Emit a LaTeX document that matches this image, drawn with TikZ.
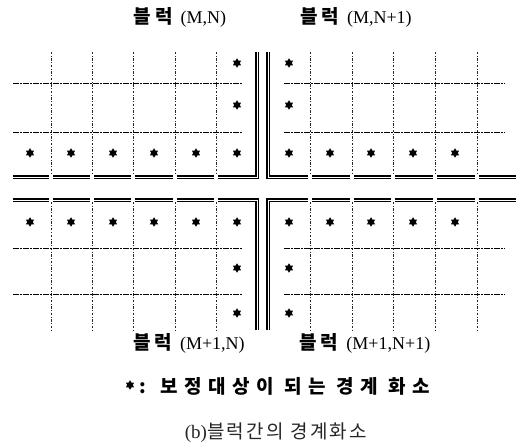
\documentclass[tikz,border=0pt]{standalone}
\usepackage{fontspec}
\setmainfont{Liberation Serif}
\newfontfamily\cjk{Noto Sans CJK KR}[LetterSpace=12]
\newfontfamily\cjkls{Noto Sans CJK KR}[LetterSpace=20]
\newfontfamily\cjkwide{Noto Sans CJK KR}[LetterSpace=34]
\usetikzlibrary{shapes.geometric}
\newcommand\blk[1]{{\fontsize{19}{21}\selectfont\cjkls\bfseries 블럭}\hspace{8pt}{\fontsize{18}{20}\selectfont #1}}
\begin{document}
\begin{tikzpicture}[x=1pt,y=-1pt,
  mk/.style={star, star points=6, star point ratio=1.7, fill=black, draw=none, inner sep=0pt, minimum size=9.5pt},
  bord/.style={double=white, line width=1.5pt, double distance=0.7pt, line join=miter},
  hthin/.style={line width=0.7pt, dash pattern=on 6pt off 1pt on 2pt off 1pt},
  vthin/.style={line width=0.6pt, black!85, dash pattern=on 2.5pt off 1.5pt on 1pt off 1.5pt},
  lbl/.style={inner sep=0pt, anchor=center},
]
\useasboundingbox (0,0) rectangle (516,446);

% labels
\node[lbl] (tl) at (180,17) {\blk{(M,N)}};
\node[lbl] (tr) at (356,17) {\blk{(M,N+1)}};
\node[lbl] (bl) at (189,343) {\blk{(M+1,N)}};
\node[lbl] (br) at (365,343) {\blk{(M+1,N+1)}};
\node[mk] (lgstar) at (130,385) {};
\node[inner sep=0pt, anchor=west] (lg) at (139,386) {\fontsize{19}{21}\selectfont\cjkwide\bfseries : 보정대상이 되는 경계 화소};
\node[lbl, text=black!85] (cap) at (276,433) {{\fontsize{19}{21}\selectfont (b)}{\fontsize{19}{21}\selectfont\cjk 블럭간의 경계화소}};

% vertical thin lines
\foreach \x in {51,92,133,175,216,310,352,393,435,477} {
  \draw[vthin] (\x,52) -- (\x,175);
  \draw[vthin] (\x,202) -- (\x,330);
}
% horizontal thin lines
\foreach \y in {83,132,248,294} {
  \draw[hthin] (13,\y) -- (243,\y);
  \draw[hthin] (284,\y) -- (505,\y);
}
% thick borders, segmented
\foreach \a/\b in {13/49,53/90,94/131,135/173,177/214} {
  \draw[bord] (\a,177) -- (\b,177);
  \draw[bord] (\a,200) -- (\b,200);
}
\foreach \a/\b in {312/350,354/391,395/433,437/475,479/516} {
  \draw[bord] (\a,177) -- (\b,177);
  \draw[bord] (\a,200) -- (\b,200);
}
\draw[bord] (218,177) -- (257,177) -- (257,52);
\draw[bord] (218,200) -- (257,200) -- (257,330);
\draw[bord] (308,177) -- (268,177) -- (268,52);
\draw[bord] (308,200) -- (268,200) -- (268,330);

% stars
\foreach \x [count=\i] in {30,71,113,154,196,237} {
  \node[mk] (sl\i) at (\x,153) {};
  \node[mk] (bl\i) at (\x,222) {};
}
\foreach \x [count=\i] in {289,330,371,413,455} {
  \node[mk] (sr\i) at (\x,153) {};
  \node[mk] (brr\i) at (\x,222) {};
}
\foreach \y [count=\i] in {63,105,268,313} {
  \node[mk] (cl\i) at (237,\y) {};
  \node[mk] (cr\i) at (289,\y) {};
}
\end{tikzpicture}
\end{document}
